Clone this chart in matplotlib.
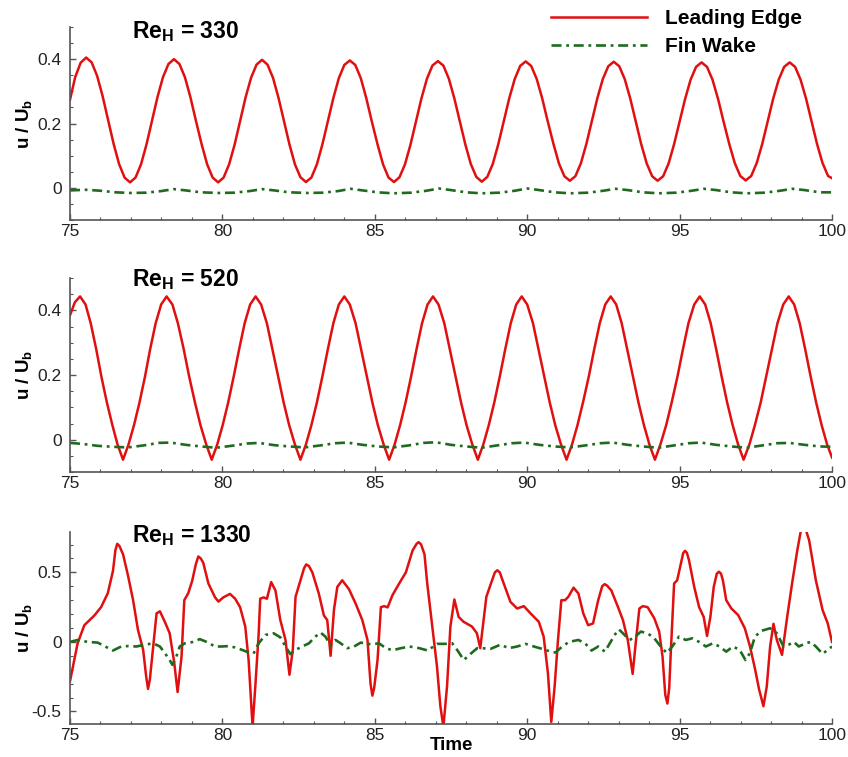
import matplotlib
matplotlib.use("Agg")
from matplotlib import pyplot as plt
from matplotlib.ticker import MultipleLocator, AutoMinorLocator

plt.rcParams['font.family'] = ['Liberation Sans', 'DejaVu Sans']
plt.rcParams['mathtext.fontset'] = 'custom'
plt.rcParams['mathtext.rm'] = 'Liberation Sans'
plt.rcParams['mathtext.bf'] = 'Liberation Sans:bold'
plt.rcParams['mathtext.it'] = 'Liberation Sans:italic'
plt.rcParams['lines.scale_dashes'] = False

# ---- Re_H = 330 ----
t_le_330 = [75.00, 75.17, 75.35, 75.53,
            75.71, 75.89, 76.07, 76.25, 76.43, 76.61, 76.79, 76.97,
            77.15, 77.33, 77.51, 77.69, 77.87, 78.05, 78.23, 78.41,
            78.59, 78.77, 78.95, 79.13, 79.32, 79.50, 79.68, 79.86,
            80.04, 80.22, 80.40, 80.58, 80.76, 80.94, 81.12, 81.30,
            81.48, 81.66, 81.84, 82.02, 82.20, 82.38, 82.56, 82.74,
            82.92, 83.10, 83.28, 83.46, 83.64, 83.82, 84.00, 84.18,
            84.36, 84.54, 84.72, 84.90, 85.09, 85.27, 85.45, 85.63,
            85.81, 85.99, 86.17, 86.35, 86.53, 86.71, 86.89, 87.07,
            87.25, 87.43, 87.61, 87.79, 87.97, 88.15, 88.33, 88.51,
            88.69, 88.87, 89.05, 89.23, 89.41, 89.59, 89.77, 89.95,
            90.13, 90.31, 90.49, 90.67, 90.86, 91.04, 91.22, 91.40,
            91.58, 91.76, 91.94, 92.12, 92.30, 92.48, 92.66, 92.84,
            93.02, 93.20, 93.38, 93.56, 93.74, 93.92, 94.10, 94.28,
            94.46, 94.64, 94.82, 95.00, 95.18, 95.36, 95.54, 95.72,
            95.90, 96.08, 96.26, 96.44, 96.63, 96.81, 96.99, 97.17,
            97.35, 97.53, 97.71, 97.89, 98.07, 98.25, 98.43, 98.61,
            98.79, 98.97, 99.15, 99.33, 99.51, 99.69, 99.87, 100.0]
u_le_330 = [0.274, 0.344, 0.389, 0.405,
            0.390, 0.348, 0.285, 0.211, 0.137, 0.074, 0.032, 0.017,
            0.032, 0.073, 0.135, 0.209, 0.282, 0.344, 0.385, 0.400,
            0.385, 0.344, 0.282, 0.209, 0.135, 0.073, 0.032, 0.017,
            0.032, 0.073, 0.134, 0.208, 0.281, 0.342, 0.383, 0.398,
            0.383, 0.342, 0.280, 0.208, 0.135, 0.073, 0.033, 0.018,
            0.032, 0.073, 0.135, 0.207, 0.279, 0.341, 0.382, 0.396,
            0.382, 0.341, 0.279, 0.207, 0.135, 0.073, 0.032, 0.018,
            0.033, 0.073, 0.134, 0.206, 0.278, 0.339, 0.380, 0.394,
            0.380, 0.339, 0.278, 0.206, 0.135, 0.074, 0.034, 0.019,
            0.034, 0.074, 0.135, 0.206, 0.278, 0.338, 0.379, 0.393,
            0.379, 0.339, 0.279, 0.208, 0.137, 0.076, 0.036, 0.022,
            0.036, 0.076, 0.136, 0.207, 0.278, 0.338, 0.378, 0.392,
            0.378, 0.338, 0.278, 0.207, 0.136, 0.076, 0.036, 0.022,
            0.036, 0.076, 0.136, 0.206, 0.276, 0.336, 0.376, 0.390,
            0.376, 0.336, 0.277, 0.207, 0.136, 0.077, 0.037, 0.023,
            0.037, 0.077, 0.136, 0.207, 0.277, 0.336, 0.376, 0.390,
            0.376, 0.336, 0.277, 0.207, 0.136, 0.077, 0.037, 0.030]

t_fw_330 = [75.0, 75.5, 76.0, 76.5, 77.0, 77.5, 78.0, 78.4, 78.8, 79.3, 79.9,
            80.4, 80.9, 81.3, 81.7, 82.2, 82.8, 83.3, 83.8, 84.2, 84.6, 85.1,
            85.6, 86.2, 86.7, 87.1, 87.5, 88.0, 88.5, 89.1, 89.6, 90.0, 90.4,
            90.9, 91.4, 92.0, 92.5, 92.9, 93.3, 93.8, 94.3, 94.9, 95.4, 95.8,
            96.2, 96.7, 97.2, 97.8, 98.3, 98.7, 99.1, 99.6, 100.0]
u_fw_330 = [-0.008, -0.006, -0.009, -0.014, -0.016, -0.015, -0.010, -0.004, -0.008, -0.014, -0.016,
            -0.015, -0.010, -0.004, -0.008, -0.014, -0.016, -0.015, -0.010, -0.003, -0.008, -0.014,
            -0.017, -0.015, -0.009, -0.002, -0.007, -0.014, -0.017, -0.015, -0.009, -0.002, -0.007,
            -0.014, -0.017, -0.015, -0.009, -0.003, -0.007, -0.014, -0.017, -0.015, -0.009, -0.003,
            -0.007, -0.014, -0.017, -0.015, -0.009, -0.003, -0.007, -0.014, -0.014]

# ---- Re_H = 520 ----
t_le_520 = [75.00, 75.16, 75.33,
            75.51, 75.68, 75.86, 76.03, 76.21, 76.39, 76.56, 76.74,
            76.92, 77.10, 77.28, 77.46, 77.63, 77.81, 77.99, 78.17,
            78.36, 78.54, 78.73, 78.91, 79.10, 79.28, 79.47, 79.65,
            79.83, 80.01, 80.19, 80.37, 80.55, 80.73, 80.91, 81.09,
            81.27, 81.46, 81.64, 81.83, 82.01, 82.19, 82.38, 82.56,
            82.74, 82.92, 83.10, 83.28, 83.46, 83.64, 83.82, 84.00,
            84.18, 84.37, 84.55, 84.74, 84.92, 85.10, 85.29, 85.47,
            85.65, 85.83, 86.01, 86.19, 86.37, 86.55, 86.73, 86.91,
            87.09, 87.28, 87.46, 87.65, 87.83, 88.01, 88.20, 88.38,
            88.56, 88.74, 88.92, 89.10, 89.28, 89.46, 89.64, 89.82,
            90.00, 90.19, 90.37, 90.56, 90.74, 90.92, 91.11, 91.29,
            91.47, 91.65, 91.83, 92.02, 92.20, 92.38, 92.56, 92.74,
            92.92, 93.10, 93.28, 93.47, 93.65, 93.83, 94.01, 94.19,
            94.37, 94.56, 94.74, 94.93, 95.11, 95.29, 95.48, 95.66,
            95.84, 96.02, 96.20, 96.38, 96.56, 96.74, 96.92, 97.10,
            97.29, 97.47, 97.66, 97.84, 98.03, 98.21, 98.40, 98.58,
            98.76, 98.94, 99.12, 99.30, 99.48, 99.66, 99.84, 100.0]
u_le_520 = [0.385, 0.425, 0.443,
            0.418, 0.360, 0.280, 0.195, 0.115, 0.045, -0.015, -0.062,
            -0.015, 0.045, 0.115, 0.195, 0.280, 0.360, 0.418, 0.443,
            0.418, 0.360, 0.280, 0.195, 0.115, 0.045, -0.015, -0.062,
            -0.015, 0.045, 0.115, 0.195, 0.280, 0.360, 0.418, 0.443,
            0.418, 0.360, 0.280, 0.195, 0.115, 0.045, -0.015, -0.062,
            -0.015, 0.045, 0.115, 0.195, 0.280, 0.360, 0.418, 0.443,
            0.418, 0.360, 0.280, 0.195, 0.115, 0.045, -0.015, -0.062,
            -0.015, 0.045, 0.115, 0.195, 0.280, 0.360, 0.418, 0.443,
            0.418, 0.360, 0.280, 0.195, 0.115, 0.045, -0.015, -0.062,
            -0.015, 0.045, 0.115, 0.195, 0.280, 0.360, 0.418, 0.443,
            0.418, 0.360, 0.280, 0.195, 0.115, 0.045, -0.015, -0.062,
            -0.015, 0.045, 0.115, 0.195, 0.280, 0.360, 0.418, 0.443,
            0.418, 0.360, 0.280, 0.195, 0.115, 0.045, -0.015, -0.062,
            -0.015, 0.045, 0.115, 0.195, 0.280, 0.360, 0.418, 0.443,
            0.418, 0.360, 0.280, 0.195, 0.115, 0.045, -0.015, -0.062,
            -0.015, 0.045, 0.115, 0.195, 0.280, 0.360, 0.418, 0.443,
            0.418, 0.360, 0.280, 0.195, 0.115, 0.045, -0.015, -0.055]

t_fw_520 = [75.0, 75.4, 75.9, 76.4, 76.9, 77.4, 77.9, 78.3, 78.8, 79.3, 79.8,
            80.3, 80.8, 81.2, 81.7, 82.2, 82.7, 83.2, 83.7, 84.1, 84.6, 85.1,
            85.6, 86.1, 86.6, 87.0, 87.5, 88.0, 88.5, 89.0, 89.5, 89.9, 90.4,
            90.9, 91.4, 91.9, 92.4, 92.8, 93.3, 93.8, 94.3, 94.8, 95.3, 95.7,
            96.2, 96.7, 97.2, 97.7, 98.2, 98.6, 99.1, 99.6, 100.0]
u_fw_520 = [-0.010, -0.013, -0.019, -0.022, -0.024, -0.018, -0.010, -0.009, -0.016, -0.021, -0.025,
            -0.019, -0.012, -0.010, -0.017, -0.021, -0.024, -0.018, -0.011, -0.009, -0.016, -0.021,
            -0.024, -0.018, -0.010, -0.008, -0.016, -0.021, -0.025, -0.018, -0.011, -0.009, -0.016,
            -0.021, -0.024, -0.018, -0.011, -0.009, -0.016, -0.021, -0.025, -0.018, -0.011, -0.009,
            -0.016, -0.021, -0.025, -0.018, -0.011, -0.010, -0.016, -0.021, -0.022]

# ---- Re_H = 1330 ----
t_le_1330 = [75.00, 75.25, 75.47, 75.80, 76.02, 76.24, 76.41, 76.49, 76.55, 76.62, 76.74, 76.90,
             77.07, 77.23, 77.40, 77.50, 77.56, 77.62, 77.73, 77.84, 77.95, 78.11, 78.27, 78.42,
             78.53, 78.66, 78.75, 78.88, 79.01, 79.13, 79.21, 79.29, 79.37, 79.54, 79.76, 79.87,
             80.03, 80.25, 80.42, 80.58, 80.75, 80.86, 80.99, 81.08, 81.19, 81.24,
             81.35, 81.46, 81.60, 81.74, 81.90, 82.07, 82.20, 82.31, 82.40, 82.56,
             82.68, 82.75, 82.84, 82.95, 83.16, 83.33, 83.44, 83.55, 83.66, 83.77, 83.93, 84.15,
             84.37, 84.59, 84.76, 84.86, 84.92, 84.98, 85.09, 85.20, 85.31, 85.42, 85.58, 85.80,
             86.02, 86.24, 86.37, 86.44, 86.52, 86.63, 86.72, 86.85, 87.04, 87.15, 87.25, 87.37,
             87.48, 87.61, 87.75, 87.91, 88.19, 88.35, 88.46, 88.55, 88.66, 88.79,
             88.94, 89.02, 89.10, 89.23, 89.45, 89.67, 89.89, 90.11, 90.38, 90.54, 90.68, 90.79,
             90.90, 91.01, 91.12, 91.24, 91.35, 91.52, 91.68, 91.84, 92.00, 92.16,
             92.33, 92.46, 92.54, 92.62, 92.76, 92.98, 93.14, 93.30, 93.46, 93.57, 93.68, 93.79,
             93.95, 94.17, 94.33, 94.44, 94.53, 94.60, 94.66, 94.71, 94.82, 94.92, 95.03, 95.12, 95.18,
             95.24, 95.31, 95.48, 95.64, 95.79, 95.90, 96.01, 96.12, 96.22, 96.29, 96.36, 96.42, 96.53,
             96.70, 96.92, 97.14, 97.31, 97.47, 97.61, 97.75, 97.86, 97.97, 98.08,
             98.19, 98.36, 98.53, 98.69, 98.86, 98.97, 99.06, 99.15, 99.25, 99.47,
             99.69, 99.86, 100.0]
u_le_1330 = [-0.283, -0.010, 0.120, 0.190, 0.250, 0.350, 0.510, 0.660, 0.705, 0.690, 0.630, 0.480,
             0.300, 0.086, -0.057, -0.250, -0.338, -0.270, -0.030, 0.205, 0.220, 0.145, 0.062, -0.150,
             -0.360, -0.105, 0.300, 0.350, 0.440, 0.560, 0.614, 0.600, 0.570, 0.420, 0.320, 0.290,
             0.320, 0.345, 0.310, 0.250, 0.110, -0.130, -0.610, -0.320, 0.060, 0.310,
             0.320, 0.310, 0.430, 0.370, 0.157, 0.014, -0.236, -0.057, 0.324, 0.443,
             0.530, 0.557, 0.545, 0.500, 0.350, 0.190, 0.157, -0.100, 0.230, 0.395, 0.443, 0.380,
             0.276, 0.157, 0.014, -0.300, -0.386, -0.330, -0.130, 0.250, 0.257, 0.248, 0.336, 0.420,
             0.500, 0.657, 0.705, 0.717, 0.700, 0.630, 0.420, 0.180, -0.176, -0.460, -0.610, -0.320,
             0.110, 0.305, 0.180, 0.145, 0.110, 0.062, -0.045, 0.120, 0.324, 0.407,
             0.500, 0.515, 0.500, 0.420, 0.288, 0.240, 0.257, 0.205, 0.145, 0.038, -0.224, -0.575,
             -0.320, 0.014, 0.300, 0.300, 0.324, 0.390, 0.348, 0.205, 0.120, 0.133,
             0.300, 0.400, 0.415, 0.405, 0.370, 0.250, 0.157, 0.014, -0.230, 0.014, 0.240, 0.257,
             0.250, 0.170, 0.074, -0.105, -0.380, -0.443, -0.330, -0.080, 0.420, 0.443, 0.550, 0.640, 0.655,
             0.640, 0.585, 0.395, 0.250, 0.180, 0.043, 0.180, 0.395, 0.490, 0.505, 0.490, 0.443, 0.300,
             0.240, 0.193, 0.098, -0.033, -0.190, -0.343, -0.462, -0.320, -0.033, 0.130,
             0.014, -0.093, 0.180, 0.420, 0.657, 0.790, 0.840, 0.800, 0.730, 0.443,
             0.230, 0.133, 0.000]

t_fw_1330 = [75.00, 75.25, 75.58, 75.91, 76.13, 76.41, 76.68, 76.90, 77.18, 77.45,
             77.73, 77.95, 78.11, 78.27, 78.36, 78.49, 78.60, 78.77, 79.04, 79.26,
             79.48, 79.76, 79.98, 80.20, 80.42, 80.64, 80.86, 81.02, 81.19, 81.41,
             81.68, 81.90, 82.07, 82.23, 82.40, 82.62, 82.84, 83.05, 83.22, 83.38,
             83.55, 83.71, 83.88, 84.10, 84.32, 84.54, 84.76, 84.92, 85.14, 85.36,
             85.58, 85.86, 86.13, 86.46, 86.74, 87.04, 87.32, 87.54, 87.70, 87.92,
             88.14, 88.36, 88.52, 88.80, 89.12, 89.40, 89.67, 89.95, 90.22, 90.49,
             90.77, 90.93, 91.15, 91.37, 91.68, 91.90, 92.11, 92.33, 92.55, 92.71,
             92.87, 93.01, 93.14, 93.36, 93.52, 93.73, 93.95, 94.17, 94.38, 94.58,
             94.76, 94.98, 95.20, 95.42, 95.64, 95.86, 96.09, 96.31, 96.53, 96.75,
             96.97, 97.16, 97.31, 97.47, 97.69, 97.97, 98.19, 98.41, 98.58, 98.75,
             98.91, 99.14, 99.30, 99.47, 99.69, 99.86, 100.0]
u_fw_1330 = [0.000, 0.014, 0.000, -0.005, -0.030, -0.062, -0.033, -0.030, -0.033, -0.020,
             -0.010, -0.033, -0.080, -0.130, -0.165, -0.105, -0.033, -0.010, 0.000, 0.020,
             0.000, -0.033, -0.033, -0.030, -0.040, -0.057, -0.076, -0.085, -0.010, 0.050,
             0.062, 0.033, -0.033, -0.088, -0.057, -0.033, -0.010, 0.038, 0.067, 0.038,
             -0.025, 0.014, -0.010, -0.045, -0.033, -0.005, -0.014, -0.017, -0.010, -0.045,
             -0.060, -0.045, -0.033, -0.045, -0.062, -0.014, -0.014, -0.010, -0.057, -0.130,
             -0.086, -0.045, -0.045, -0.050, -0.020, -0.045, -0.033, -0.014, -0.033, -0.050,
             -0.070, -0.076, -0.033, 0.000, 0.014, -0.010, -0.062, -0.033, -0.070, -0.010,
             0.050, 0.090, 0.062, 0.014, 0.033, 0.074, 0.062, 0.026, -0.033, -0.080,
             -0.033, 0.038, 0.014, 0.026, 0.000, -0.033, -0.010, -0.033, -0.070, -0.033,
             -0.057, -0.130, -0.080, 0.038, 0.080, 0.098, 0.062, -0.033, -0.020, 0.000,
             -0.033, -0.010, 0.000, -0.033, -0.086, -0.057, -0.033]

titles = ['330', '520', '1330']
ylims = [(-0.1, 0.5), (-0.1, 0.5), (-0.59, 0.79)]
red = '#e01010'
green = '#1e6b1e'
axis_col = '#555555'

fig = plt.figure(figsize=(8.48, 7.57), dpi=100)
W, H = 848.0, 757.0
# axes boxes in pixels: (left, top, right, bottom)
boxes = [(70, 27, 832, 220), (70, 278, 832, 472), (70, 532, 832, 724)]
title_y = [0.94, 0.96, 0.945]
data = [(t_le_330, u_le_330, t_fw_330, u_fw_330),
        (t_le_520, u_le_520, t_fw_520, u_fw_520),
        (t_le_1330, u_le_1330, t_fw_1330, u_fw_1330)]

axes = []
for i in range(3):
    l, t, r, b = boxes[i]
    ax = fig.add_axes([l / W, 1 - b / H, (r - l) / W, (b - t) / H])
    tl, ul, tf, uf = data[i]
    ax.plot(tl, ul, color=red, lw=1.8, label='Leading Edge',
            solid_joinstyle='round')
    ax.plot(tf, uf, color=green, lw=1.9, label='Fin Wake',
            linestyle=(0, (7.2, 3.4, 2.0, 3.4)))
    ax.set_xlim(75, 100)
    ax.set_ylim(*ylims[i])
    ax.xaxis.set_major_locator(MultipleLocator(5))
    ax.xaxis.set_minor_locator(AutoMinorLocator(5))
    if i < 2:
        ax.yaxis.set_major_locator(MultipleLocator(0.2))
        ax.yaxis.set_minor_locator(AutoMinorLocator(4))
        ax.set_yticks([0, 0.2, 0.4])
        ax.set_yticklabels(['0', '0.2', '0.4'])
    else:
        ax.yaxis.set_major_locator(MultipleLocator(0.5))
        ax.yaxis.set_minor_locator(AutoMinorLocator(5))
        ax.set_yticks([-0.5, 0, 0.5])
        ax.set_yticklabels(['-0.5', '0', '0.5'])
    for s in ['top', 'right']:
        ax.spines[s].set_visible(False)
    for s in ['left', 'bottom']:
        ax.spines[s].set_color(axis_col)
        ax.spines[s].set_linewidth(1.2)
    ax.tick_params(which='both', direction='in', color=axis_col, labelsize=12.5,
                   labelcolor='#222222')
    ax.tick_params(which='major', length=4, width=1.0)
    ax.tick_params(which='minor', length=2.5, width=0.8)
    ax.tick_params(axis='y', pad=6)
    ax.tick_params(axis='x', pad=3)
    ax.set_ylabel(r'u / U$_{\mathbf{b}}$', fontsize=13.5, fontweight='bold')
    ax.yaxis.set_label_coords(-0.047, 0.5)
    ax.text(0.081, title_y[i], r'Re$_{\mathbf{H}}$ = ' + titles[i], transform=ax.transAxes,
            fontsize=16.5, fontweight='bold', ha='left', va='baseline')
    axes.append(ax)

axes[2].set_xlabel('Time', fontsize=13.5, fontweight='bold')
axes[2].xaxis.set_label_coords(0.5, -0.07)

h, lab = axes[0].get_legend_handles_labels()
fig.legend(h, lab, loc='upper left', bbox_to_anchor=(551 / W, 1 - 9 / H),
           frameon=False, borderpad=0, borderaxespad=0, handlelength=4.6,
           handletextpad=0.85, labelspacing=0.45,
           prop={'size': 15, 'weight': 'bold'})

fig.savefig('out.png', dpi=100, facecolor='white')
